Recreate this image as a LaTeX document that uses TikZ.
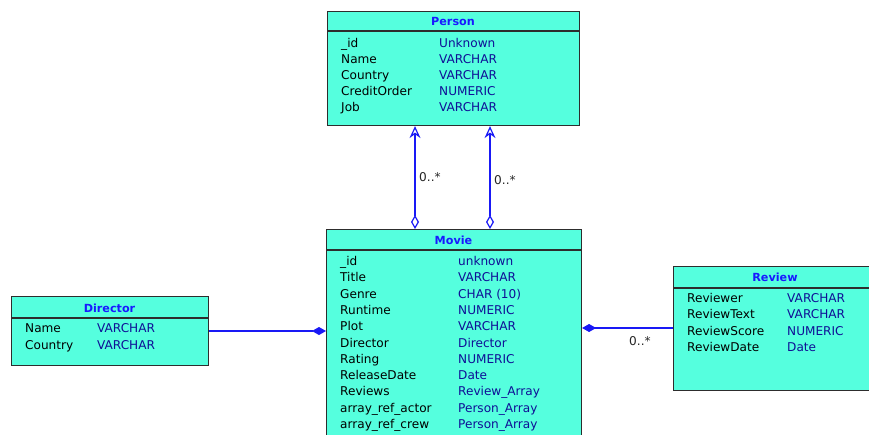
\documentclass[tikz,border=0pt]{standalone}
\usepackage{fontspec}
\setmainfont{DejaVu Sans}
\usetikzlibrary{arrows.meta}
\definecolor{boxfill}{RGB}{85,255,222}
\definecolor{boxline}{RGB}{45,45,45}
\definecolor{titleblue}{RGB}{25,25,255}
\definecolor{typeblue}{RGB}{15,15,150}
\definecolor{linkblue}{RGB}{25,25,245}
\tikzset{
  cls/.style={draw=boxline, fill=boxfill, line width=1.1pt, rectangle, inner sep=0pt, anchor=north west},
  sepline/.style={draw=boxline, line width=1.1pt},
  ctitle/.style={font=\fontsize{11.2}{13}\selectfont\bfseries, text=titleblue, inner sep=0pt},
  fname/.style={font=\fontsize{12.1}{14}\selectfont, text=black, anchor=base west, inner sep=0pt},
  ftype/.style={font=\fontsize{12.1}{14}\selectfont, text=typeblue, anchor=base west, inner sep=0pt},
  mult/.style={font=\fontsize{12.1}{14}\selectfont, text=black!85, anchor=base west, inner sep=0pt},
  link/.style={draw=linkblue, line width=1.2pt},
}
\begin{document}
\begin{tikzpicture}[x=1pt,y=-1pt]
\useasboundingbox (0,0) rectangle (869,434);
\clip (0,0) rectangle (869,434);
% Person
\node[cls, minimum width=252pt, minimum height=114pt] (person) at (327,11) {};
\draw[sepline] ([yshift=-20pt]person.north west) -- ([yshift=-20pt]person.north east);
\node[ctitle] (personT) at (453,21) {Person};
\foreach \n/\t [count=\i] in {\_id/Unknown, Name/VARCHAR, Country/VARCHAR, CreditOrder/NUMERIC, Job/VARCHAR}{
  \node[fname] (pn\i) at (341,31.5+16*\i) {\n};
  \node[ftype] (pt\i) at (439,31.5+16*\i) {\t};
}
% Movie
\node[cls, minimum width=255pt, minimum height=240pt] (movie) at (326,229) {};
\draw[sepline] ([yshift=-21pt]movie.north west) -- ([yshift=-21pt]movie.north east);
\node[ctitle] (movieT) at (453.5,240) {Movie};
\foreach \n/\t [count=\i] in {\_id/unknown, Title/VARCHAR, Genre/CHAR (10), Runtime/NUMERIC, Plot/VARCHAR, Director/Director, Rating/NUMERIC, ReleaseDate/Date, Reviews/Review\_Array, array\_ref\_actor/Person\_Array, array\_ref\_crew/Person\_Array}{
  \node[fname] (mn\i) at (340,249.2+16.3*\i) {\n};
  \node[ftype] (mt\i) at (458,249.2+16.3*\i) {\t};
}
% Director
\node[cls, minimum width=197pt, minimum height=69pt] (director) at (11,296) {};
\draw[sepline] ([yshift=-22pt]director.north west) -- ([yshift=-22pt]director.north east);
\node[ctitle] (directorT) at (109.5,308) {Director};
\foreach \n/\t [count=\i] in {Name/VARCHAR, Country/VARCHAR}{
  \node[fname] (dn\i) at (25,316+16.5*\i) {\n};
  \node[ftype] (dt\i) at (97,316+16.5*\i) {\t};
}
% Review
\node[cls, minimum width=215pt, minimum height=124pt] (review) at (673,266) {};
\draw[sepline] ([yshift=-22pt]review.north west) -- ([yshift=-22pt]review.north east);
\node[ctitle] (reviewT) at (775,277) {Review};
\foreach \n/\t [count=\i] in {Reviewer/VARCHAR, ReviewText/VARCHAR, ReviewScore/NUMERIC, ReviewDate/Date}{
  \node[fname] (rn\i) at (687,286.2+16.3*\i) {\n};
  \node[ftype] (rt\i) at (787,286.2+16.3*\i) {\t};
}
% Connectors Movie -> Person
\draw[link, {Diamond[open, length=14pt, width=8pt]}-{Stealth[open, length=12pt, width=11pt, inset=4pt]}]
  ([xshift=89pt]movie.north west) -- ([xshift=88pt]person.south west);
\draw[link, {Diamond[open, length=14pt, width=8pt]}-{Stealth[open, length=12pt, width=11pt, inset=4pt]}]
  ([xshift=164pt]movie.north west) -- ([xshift=163pt]person.south west);
\node[mult] (m1) at (419,181) {0..*};
\node[mult] (m2) at (494,184) {0..*};
% Director -> Movie
\draw[link, -{Diamond[length=14pt, width=8pt]}]
  ([yshift=-35pt]director.north east) -- ([yshift=-102pt]movie.north west);
% Review -> Movie
\draw[link, -{Diamond[length=14pt, width=8pt]}]
  ([yshift=-62pt]review.north west) -- ([yshift=-99pt]movie.north east);
\node[mult] (m3) at (629,345) {0..*};
\end{tikzpicture}
\end{document}
